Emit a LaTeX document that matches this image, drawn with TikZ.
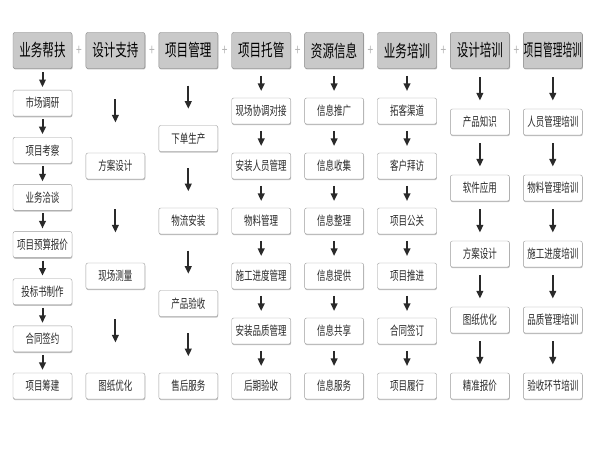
\documentclass[tikz,border=0pt]{standalone}
\usepackage{fontspec}
\setmainfont{Noto Sans CJK SC}[FakeStretch=0.68]
\usetikzlibrary{arrows.meta,shadows}
\definecolor{hdfill}{HTML}{C9C9C9}
\definecolor{hdborder}{HTML}{858585}
\definecolor{bxborder}{HTML}{9C9C9C}
\definecolor{txt}{HTML}{2A2A2A}
\definecolor{arrcol}{HTML}{2A2A2A}
\definecolor{plusc}{HTML}{B5B5B5}
\tikzset{
  hd/.style={draw=hdborder, fill=hdfill, rounded corners=2pt, minimum width=59pt,
    minimum height=36pt, inner sep=0pt, text=black, font=\fontsize{17}{17}\selectfont,
    drop shadow={shadow xshift=0.6pt, shadow yshift=-1pt, fill=black!45, opacity=0.6}},
  bx/.style={draw=bxborder, fill=white, rounded corners=2pt, minimum width=59pt,
    minimum height=26pt, inner sep=0pt, text=txt, font=\fontsize{12.5}{13}\selectfont,
    drop shadow={shadow xshift=0.4pt, shadow yshift=-1.2pt, fill=black!40, opacity=0.6}},
  arr/.style={draw=arrcol, line width=2pt, -{Triangle[width=6.5pt,length=7.5pt]}},
  plus/.style={text=plusc, font=\fontsize{15}{15}\selectfont, inner sep=0pt}
}
\newcommand\mkcol[3]{%
  \pgfmathsetmacro\cx{42.5+72.9*(#1-1)}%
  \pgfmathsetmacro\gp{(330-26*#2)/#2}%
  \pgfmathsetmacro\al{\gp<35 ? 15 : 23}%
  \foreach \t [count=\k] in {#3} {%
    \pgfmathsetmacro\cy{69+\k*\gp+(\k-0.5)*26}%
    \node[bx] (b#1-\k) at (\cx,\cy) {\t};
    \pgfmathsetmacro\ay{\cy-13-\gp/2}%
    \coordinate (s#1-\k) at (\cx,\ay-\al/2);
    \coordinate (e#1-\k) at (\cx,\ay+\al/2);
    \draw[arr] (s#1-\k) -- (e#1-\k);
  }%
}
\begin{document}
\begin{tikzpicture}[x=1pt,y=-1pt]
\useasboundingbox[fill=white] (0,0) rectangle (600,462);
\foreach \h [count=\i] in {业务帮扶,设计支持,项目管理,项目托管,资源信息,业务培训,设计培训} {
  \pgfmathsetmacro\hx{42.5+72.9*(\i-1)}
  \node[hd] (h\i) at (\hx,50.5) {\h};
  \pgfmathsetmacro\px{\hx+36.45}
  \node[plus] (p\i) at (\px,51) {+};
}
\node[hd] (h8) at (552.8,50.5) {\scalebox{0.84}[1]{项目管理培训}};
\mkcol{1}{7}{市场调研,项目考察,业务洽谈,项目预算报价,投标书制作,合同签约,项目筹建}
\mkcol{2}{3}{方案设计,现场测量,图纸优化}
\mkcol{3}{4}{下单生产,物流安装,产品验收,售后服务}
\mkcol{4}{6}{现场协调对接,安装人员管理,物料管理,施工进度管理,安装品质管理,后期验收}
\mkcol{5}{6}{信息推广,信息收集,信息整理,信息提供,信息共享,信息服务}
\mkcol{6}{6}{拓客渠道,客户拜访,项目公关,项目推进,合同签订,项目履行}
\mkcol{7}{5}{产品知识,软件应用,方案设计,图纸优化,精准报价}
\mkcol{8}{5}{人员管理培训,物料管理培训,施工进度培训,品质管理培训,验收环节培训}
\end{tikzpicture}
\end{document}
